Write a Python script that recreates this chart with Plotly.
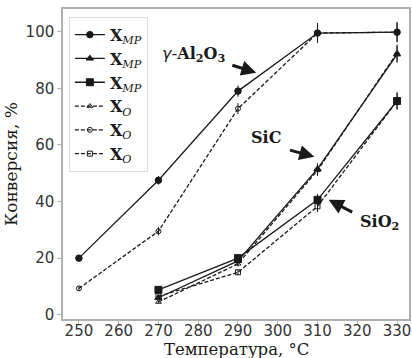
import plotly.graph_objects as go

T = [250, 270, 290, 310, 330]
T2 = [270, 290, 310, 330]

al_mp = [20, 47.5, 79, 99.5, 99.8]
al_o = [9.3, 29.5, 72.8, 99.5, 99.8]
al_err = [0.8, 1.5, 2.0, 3.5, 3.5]

sic_mp = [6.0, 19.0, 51.5, 92.0]
sic_o = [4.5, 18.0, 51.0, 92.5]
sic_err = [0.5, 1.0, 2.0, 3.0]

sio_mp = [8.8, 20.0, 40.6, 75.5]
sio_o = [6.5, 15.0, 38.3, 75.5]
sio_err = [0.5, 1.0, 2.0, 3.0]

xticks = [250, 260, 270, 280, 290, 300, 310, 320, 330]
yticks = [0, 20, 40, 60, 80, 100]

INK = "#1a1a1a"
SERIF = "DejaVu Serif, Liberation Serif, serif"
SANS = "DejaVu Sans, sans-serif"

name_mp = "<b>X</b><sub><i>MP</i></sub>"
name_o = "<b>X</b><sub><i>O</i></sub>"

fig = go.Figure()

def add(x, y, err, name, symbol, size, dash):
    fig.add_trace(go.Scatter(
        x=x, y=y, name=name, mode="lines+markers",
        line=dict(color=INK, width=1.3, dash=dash),
        marker=dict(symbol=symbol, size=size, color=INK,
                    line=dict(color=INK, width=1)),
        error_y=dict(type="data", array=err, visible=True, color=INK,
                     thickness=1, width=0),
    ))

add(T, al_mp, al_err, name_mp, "circle", 6.5, "solid")
add(T2, sic_mp, sic_err, name_mp, "triangle-up", 6.5, "solid")
add(T2, sio_mp, sio_err, name_mp, "square", 7, "solid")
add(T2, sic_o, sic_err, name_o, "triangle-up-open", 5, "4px,2px")
add(T, al_o, al_err, name_o, "circle-open", 5, "4px,2px")
add(T2, sio_o, sio_err, name_o, "square-open", 5, "4px,2px")

ann_font = dict(family=SERIF, size=16, color=INK)
fig.add_annotation(x=278.9, y=92.0, xref="x", yref="y", showarrow=False,
                   text='<span style="font-family:DejaVu Sans"><i>γ</i>-</span><b>Al<sub>2</sub>O<sub>3</sub></b>',
                   font=ann_font)
fig.add_annotation(x=297.1, y=62.5, xref="x", yref="y", showarrow=False,
                   text="<b>SiC</b>", font=ann_font)
fig.add_annotation(x=325.6, y=32.5, xref="x", yref="y", showarrow=False,
                   text="<b>SiO<sub>2</sub></b>", font=ann_font)

# x-axis title as a paper annotation (tight spacing as in the reference)
fig.add_annotation(x=0.5, y=-0.097, xref="paper", yref="paper",
                   xanchor="center", yanchor="middle", showarrow=False,
                   text="Температура, °C",
                   font=dict(family=SERIF, size=16.5, color=INK))

arrows = [
    (294.6, 85.5, 288.2, 88.3),
    (309.2, 55.8, 302.7, 58.3),
    (312.8, 40.6, 319.1, 36.0),
]
for hx, hy, tx, ty in arrows:
    fig.add_annotation(x=hx, y=hy, ax=tx, ay=ty, xref="x", yref="y",
                       axref="x", ayref="y", text="", showarrow=True,
                       arrowhead=2, arrowsize=1.0, arrowwidth=3,
                       arrowcolor=INK)

axis_common = dict(
    showline=True, linecolor="#b0b0b0", linewidth=1.5, mirror=True,
    ticks="outside", ticklen=4, tickcolor="#b0b0b0", tickwidth=1,
    showgrid=False, zeroline=False,
    tickfont=dict(family=SANS, size=15, color="#333"),
)

fig.update_layout(
    width=412, height=358,
    margin=dict(l=63, r=3, t=9, b=39, autoexpand=False),
    paper_bgcolor="white", plot_bgcolor="white",
    xaxis=dict(range=[246, 333], tickvals=xticks, ticklabelstandoff=-7,
               **axis_common),
    yaxis=dict(range=[-1.5, 108], tickvals=yticks,
               title=dict(text="Конверсия, %", standoff=4,
                          font=dict(family=SERIF, size=17, color=INK)),
               **axis_common),
    legend=dict(x=0.017, y=0.975, xanchor="left", yanchor="top",
                bgcolor="rgba(255,255,255,0.85)", bordercolor="#dddddd",
                borderwidth=1, font=dict(family=SERIF, size=16, color=INK),
                tracegroupgap=0, itemwidth=30),
    showlegend=True,
)

fig.write_html("out.html")
